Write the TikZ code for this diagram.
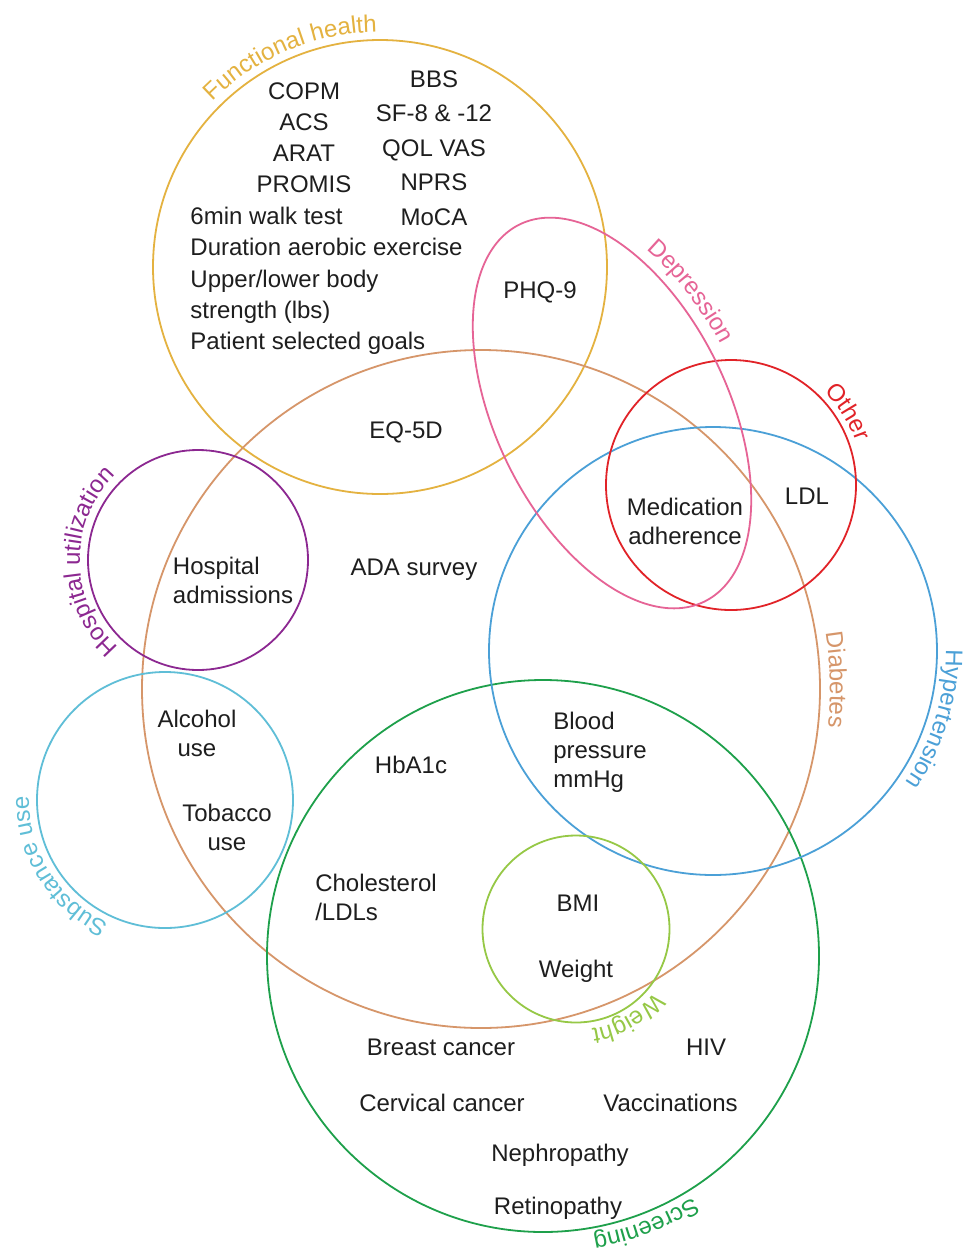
\documentclass[tikz,border=0pt]{standalone}
\usepackage{fontspec}
\setmainfont{Liberation Sans}
\usetikzlibrary{decorations.text}
\definecolor{fhcol}{RGB}{228,178,64}
\definecolor{diacol}{RGB}{214,150,106}
\definecolor{depcol}{RGB}{230,100,150}
\definecolor{othcol}{RGB}{225,35,40}
\definecolor{hypcol}{RGB}{75,160,215}
\definecolor{hoscol}{RGB}{140,40,145}
\definecolor{subcol}{RGB}{95,190,215}
\definecolor{scrcol}{RGB}{30,160,75}
\definecolor{wtcol}{RGB}{150,200,70}
\definecolor{txtcol}{RGB}{30,30,30}
\newcommand\lblfont{\fontsize{24}{24}\selectfont}
\begin{document}
\begin{tikzpicture}[x=1pt,y=-1pt,
  setline/.style={line width=1.8pt},
  txt/.style={font=\fontsize{24}{29}\selectfont, text=txtcol, inner sep=0pt},
  setlabel/.style 2 args={decorate, decoration={text along path, text={|\lblfont|#2}, text align=center, text color=#1}}]
\fill[white] (0,0) rectangle (964,1251);
\useasboundingbox (0,0) rectangle (964,1251);
% centres
\coordinate (cF) at (380,267);
\coordinate (cD) at (481,689);
\coordinate (cHo) at (198,560);
\coordinate (cS) at (165,800);
\coordinate (cSc) at (543,956);
\coordinate (cH) at (713,651);
\coordinate (cO) at (731,485);
\coordinate (cW) at (576,929);
% sets
\draw[setline, fhcol] (cF) circle[radius=227];
\draw[setline, diacol] (cD) circle[radius=339];
\draw[setline, hoscol] (cHo) circle[radius=110];
\draw[setline, subcol] (cS) circle[radius=128];
\draw[setline, scrcol] (cSc) circle[radius=276];
\draw[setline, hypcol] (cH) circle[radius=224];
\draw[setline, othcol] (cO) circle[radius=125];
\draw[setline, wtcol] (cW) circle[radius=93.5];
\draw[setline, depcol] plot[domain=0:360, samples=240, variable=\t]
  ({612 + 210*cos(\t)*0.4399 - 116*sin(\t)*0.8980}, {413 + 210*cos(\t)*0.8980 + 116*sin(\t)*0.4399}) -- cycle;
% set labels
\path[setlabel={fhcol}{Functional health}] (cF) ++(-160:235) arc[start angle=-160, end angle=-66, radius=235];
\path[setlabel={depcol}{Depression}] plot[domain=-139:-83, samples=60, variable=\t]
  ({612 + 222*cos(\t)*0.4399 - 128*sin(\t)*0.8980}, {413 + 222*cos(\t)*0.8980 + 128*sin(\t)*0.4399});
\path[setlabel={othcol}{Other}] (cO) ++(-62:132) arc[start angle=-62, end angle=-2, radius=132];
\path[setlabel={hypcol}{Hypertension}] (cH) ++(-13:233) arc[start angle=-13, end angle=47, radius=233];
\path[setlabel={diacol}{Diabetes}] (cD) ++(-20:349) arc[start angle=-20, end angle=17, radius=349];
\path[setlabel={hoscol}{Hospital utilization}] (cHo) ++(119:118) arc[start angle=119, end angle=239, radius=118];
\path[setlabel={subcol}{Substance use}] (cS) ++(101:136) arc[start angle=101, end angle=195, radius=136];
\path[setlabel={wtcol}{Weight}] (cW) ++(20:101) arc[start angle=20, end angle=100, radius=101];
\path[setlabel={scrcol}{Screening}] (cSc) ++(44:284) arc[start angle=44, end angle=94, radius=284];
% functional health items
\node[txt, align=center, font=\fontsize{24}{31}\selectfont] (fhA) at (304,137.5) {COPM\\ACS\\ARAT\\PROMIS};
\node[txt, align=left, font=\fontsize{24}{31.25}\selectfont] (fhB) at (326.5,281) {6min walk test\\Duration aerobic exercise\\Upper/lower body\\strength (lbs)\\Patient selected goals};
\node[txt, align=center, font=\fontsize{24}{34.5}\selectfont] (fhR) at (434,148) {BBS\\SF-8 \& -12\\QOL VAS\\NPRS\\MoCA};
% other items
\node[txt, anchor=base] (phq) at (540,298.6) {PHQ-9};
\node[txt, anchor=base] (eq) at (406,438.6) {EQ-5D};
\node[txt, align=center] (med) at (685,521.5) {Medication\\adherence};
\node[txt, anchor=base] (ldl) at (807,504.6) {LDL};
\node[txt, align=left] (hadm) at (233,580) {Hospital\\admissions};
\node[txt, anchor=base] (ada) at (414,575.6) {ADA survey};
\node[txt, align=center] (alc) at (197,733) {Alcohol\\use};
\node[txt, align=center] (tob) at (227,827) {Tobacco\\use};
\node[txt, align=left] (bp) at (600,752) {Blood\\pressure\\mmHg};
\node[txt, anchor=base] (hba) at (411,773.6) {HbA1c};
\node[txt, align=left] (chol) at (376,897) {Cholesterol\\/LDLs};
\node[txt, anchor=base] (bmi) at (578,911.6) {BMI};
\node[txt, anchor=base] (wt) at (576,977.6) {Weight};
\node[txt, anchor=base] (breast) at (441,1055.6) {Breast cancer};
\node[txt, anchor=base] (hiv) at (706,1055.6) {HIV};
\node[txt, anchor=base] (cerv) at (442,1111.6) {Cervical cancer};
\node[txt, anchor=base] (vacc) at (670.5,1111.6) {Vaccinations};
\node[txt, anchor=base] (neph) at (560,1161.6) {Nephropathy};
\node[txt, anchor=base] (retin) at (558,1214.6) {Retinopathy};
\end{tikzpicture}
\end{document}
